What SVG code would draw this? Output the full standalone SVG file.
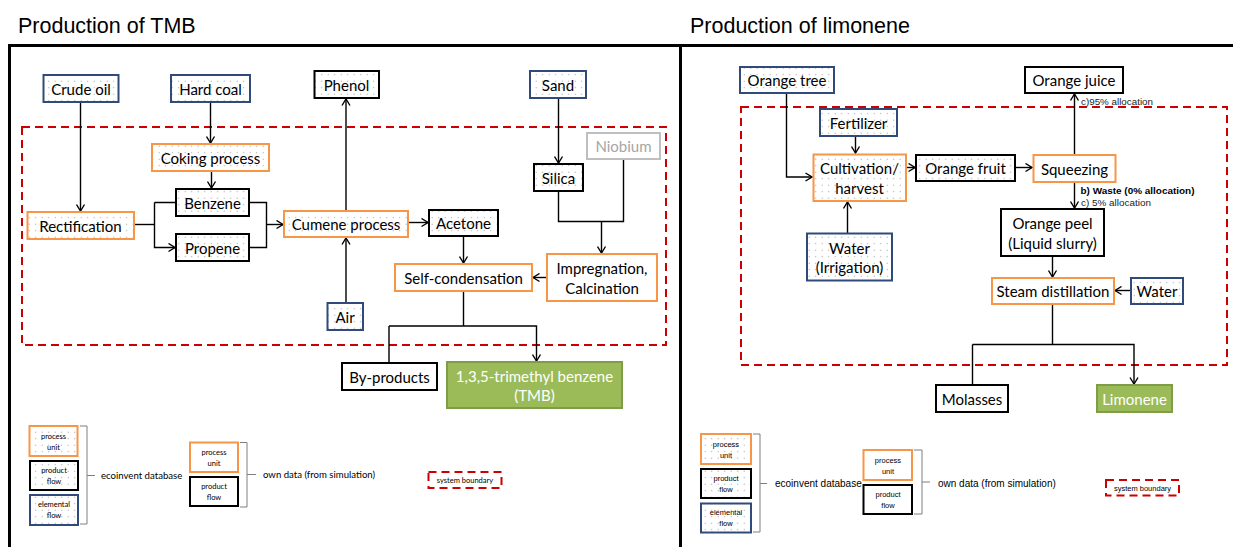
<svg xmlns="http://www.w3.org/2000/svg" width="1233" height="547" viewBox="0 0 1233 547">
<style>
.t{font-family:Lato,"Open Sans",sans-serif;font-size:15px;fill:#000;text-anchor:middle;dominant-baseline:central}
.tw{fill:#fff}
.tg{fill:#A6A6A6}
.title{font-family:"Liberation Sans",Arial,sans-serif;font-size:21.5px;fill:#000}
.pu{fill:url(#dots);stroke:#F79646;stroke-width:2}
.pu0{fill:#fff;stroke:#F79646;stroke-width:2}
.pf{fill:url(#dots);stroke:#000;stroke-width:2}
.pf0{fill:#fff;stroke:#000;stroke-width:2}
.ef{fill:url(#dots);stroke:#2F4A7B;stroke-width:2}
.gr{fill:#fff;stroke:#BFBFBF;stroke-width:2}
.fin{fill:#9BBB59;stroke:#7F9C48;stroke-width:2}
.c{fill:none;stroke:#000;stroke-width:1.4}
.ca{fill:none;stroke:#000;stroke-width:1.4;marker-end:url(#arr)}
.sb{fill:none;stroke:#CC0000;stroke-width:2;stroke-dasharray:8,5}
.frame{fill:none;stroke:#000;stroke-width:3}
.brace{fill:none;stroke:#7F7F7F;stroke-width:1}
.lt{font-family:Lato,"Open Sans",sans-serif;font-size:7.5px;fill:#000;text-anchor:middle;dominant-baseline:central}
.ll{font-family:Lato,"Open Sans",sans-serif;font-size:9.6px;fill:#000;dominant-baseline:central}
.lt2{font-family:"Liberation Sans",Arial,sans-serif;font-size:7.5px;fill:#000;text-anchor:middle;dominant-baseline:central}
.ll2{font-family:"Liberation Sans",Arial,sans-serif;font-size:10px;fill:#000;dominant-baseline:central}
.al{font-family:"Liberation Sans",Arial,sans-serif;font-size:9px;fill:#222}
.alb{font-family:"Liberation Sans",Arial,sans-serif;font-size:9px;fill:#000;font-weight:bold}
</style>
<defs>
<pattern id="dots" patternUnits="userSpaceOnUse" width="6.5" height="6.5">
<rect width="6.5" height="6.5" fill="#fff"/>
<circle cx="3.2" cy="3.2" r="0.6" fill="#A0A0A0"/>
</pattern>
<marker id="arr" viewBox="0 0 8 10" refX="7.5" refY="5" markerWidth="8" markerHeight="10" markerUnits="userSpaceOnUse" orient="auto">
<path d="M1,1 L7.5,5 L1,9" fill="none" stroke="#000" stroke-width="1.4"/>
</marker>
</defs>
<rect width="1233" height="547" fill="#fff"/>

<!-- titles and frames -->
<text class="title" x="18" y="33">Production of TMB</text>
<text class="title" x="690" y="33">Production of limonene</text>
<g id="frames">
<path class="frame" d="M9.5,547 V45.5 H1233"/>
<path class="frame" d="M680.5,45.5 V547"/>
</g>

<!-- system boundaries -->
<rect id="boundary-tmb" class="sb" x="22" y="127" width="644" height="218"/>
<rect id="boundary-lim" class="sb" x="741" y="107" width="486" height="258"/>

<!-- connectors -->
<g id="connectors">
<!-- left -->
<path class="ca" d="M80.5,102 V211"/>
<path class="ca" d="M210.5,102 V143"/>
<path class="ca" d="M211.5,171 V188"/>
<path class="c" d="M134,224.5 H154.5"/>
<path class="ca" d="M154.5,202.5 H175 M154.5,202.5 V247.5 H175"/>
<path class="c" d="M249,202.5 H266.5 V247.5 H249"/>
<path class="ca" d="M266.5,224.5 H283"/>
<path class="ca" d="M346,211 V99"/>
<path class="ca" d="M346,303 V238"/>
<path class="ca" d="M408,222.5 H428"/>
<path class="ca" d="M558.5,98 V163"/>
<path class="c" d="M558.5,191 V221.5 H623.5 V159"/>
<path class="ca" d="M601.5,221.5 V253"/>
<path class="ca" d="M463.5,236 V263"/>
<path class="ca" d="M547,277.5 H533"/>
<path class="c" d="M463.5,291 V326"/>
<path class="ca" d="M389,326 V362 M389,326 H536.5 V361"/>
<!-- right -->
<path class="ca" d="M786.5,93 V177 H812"/>
<path class="ca" d="M855.5,136 V153"/>
<path class="ca" d="M847.5,233 V202"/>
<path class="ca" d="M906,167.5 H915"/>
<path class="ca" d="M1015,167.5 H1032"/>
<path class="ca" d="M1074.5,155 V94"/>
<path class="ca" d="M1074.5,182 V208"/>
<path class="ca" d="M1052.5,256 V277"/>
<path class="ca" d="M1131,290.5 H1115"/>
<path class="c" d="M1052.5,304 V344.5"/>
<path class="ca" d="M972.5,344.5 V384 M972.5,344.5 H1134 V384"/>
</g>

<!-- connector labels -->
<text class="al" x="1081" y="104.5" textLength="72" lengthAdjust="spacingAndGlyphs">c)95% allocation</text>
<text class="alb" x="1080.5" y="194" textLength="114" lengthAdjust="spacingAndGlyphs">b) Waste (0% allocation)</text>
<text class="al" x="1081" y="206" textLength="70" lengthAdjust="spacingAndGlyphs">c) 5% allocation</text>

<!-- left nodes -->
<g id="crude-oil"><rect class="ef" x="43.5" y="75" width="75" height="27"/><text class="t" x="81" y="88.5">Crude oil</text></g>
<g id="hard-coal"><rect class="ef" x="171" y="75" width="79" height="27"/><text class="t" x="210.5" y="88.5">Hard coal</text></g>
<g id="phenol"><rect class="pf" x="314.5" y="71" width="64.5" height="27"/><text class="t" x="346.5" y="84.5">Phenol</text></g>
<g id="sand"><rect class="ef" x="530" y="71" width="56" height="27"/><text class="t" x="558" y="84.5">Sand</text></g>
<g id="coking"><rect class="pu" x="152" y="144" width="117" height="27"/><text class="t" x="210.5" y="157.5">Coking process</text></g>
<g id="niobium"><rect class="gr" x="587" y="133" width="73" height="26"/><text class="t tg" x="623.5" y="146">Niobium</text></g>
<g id="silica"><rect class="pf" x="534" y="164" width="49" height="27"/><text class="t" x="558.5" y="177.5">Silica</text></g>
<g id="benzene"><rect class="pf" x="176" y="189" width="73" height="27"/><text class="t" x="212.5" y="202.5">Benzene</text></g>
<g id="propene"><rect class="pf" x="176" y="234" width="73" height="27"/><text class="t" x="212.5" y="247.5">Propene</text></g>
<g id="rectification"><rect class="pu" x="27.5" y="212" width="106.5" height="27"/><text class="t" x="80.5" y="225.5">Rectification</text></g>
<g id="cumene"><rect class="pu" x="284" y="211" width="124" height="26"/><text class="t" x="346" y="224">Cumene process</text></g>
<g id="acetone"><rect class="pf" x="429" y="210" width="69" height="26"/><text class="t" x="463.5" y="223">Acetone</text></g>
<g id="self-condensation"><rect class="pu0" x="395" y="264" width="137" height="27"/><text class="t" x="463.5" y="277.5">Self-condensation</text></g>
<g id="impregnation"><rect class="pu0" x="547" y="254" width="110" height="47"/><text class="t" x="602" y="268">Impregnation,</text><text class="t" x="602" y="288">Calcination</text></g>
<g id="air"><rect class="ef" x="327.5" y="303" width="35.5" height="27"/><text class="t" x="345" y="316.5">Air</text></g>
<g id="by-products"><rect class="pf0" x="342" y="363" width="95" height="27"/><text class="t" x="389.5" y="376.5">By-products</text></g>
<g id="tmb"><rect class="fin" x="447" y="362" width="175" height="46"/><text class="t tw" x="534.5" y="375.5">1,3,5-trimethyl benzene</text><text class="t tw" x="534.5" y="395">(TMB)</text></g>

<!-- left legend -->
<g id="legend-tmb">
<rect class="pu" x="29.5" y="426" width="48" height="30"/><text class="lt" x="53.5" y="436">process</text><text class="lt" x="53.5" y="447">unit</text>
<rect class="pf" x="30" y="461" width="48" height="29"/><text class="lt" x="54" y="470.5">product</text><text class="lt" x="54" y="481.5">flow</text>
<rect class="ef" x="30" y="495" width="48" height="30"/><text class="lt" x="54" y="504.5">elemental</text><text class="lt" x="54" y="515.5">flow</text>
<path class="brace" d="M80,426 H87 V524 H80 M87,475.5 H95"/>
<text class="ll" x="101" y="475.5">ecoinvent database</text>
<rect class="pu0" x="190" y="442.5" width="48" height="29.5"/><text class="lt" x="214" y="452">process</text><text class="lt" x="214" y="463">unit</text>
<rect class="pf0" x="190" y="477" width="48" height="29"/><text class="lt" x="214" y="486">product</text><text class="lt" x="214" y="497">flow</text>
<path class="brace" d="M240,442.5 H247 V507 H240 M247,474.5 H256"/>
<text class="ll" x="263" y="474.5">own data (from simulation)</text>
<rect class="sb" x="428.5" y="472" width="73" height="16" stroke-dasharray="6,4"/>
<text class="lt" x="465" y="480">system boundary</text>
</g>

<!-- right nodes -->
<g id="orange-tree"><rect class="ef" x="740" y="67" width="94" height="26"/><text class="t" x="787" y="80">Orange tree</text></g>
<g id="orange-juice"><rect class="pf0" x="1025" y="67" width="98" height="26"/><text class="t" x="1074" y="80">Orange juice</text></g>
<g id="fertilizer"><rect class="ef" x="820" y="109" width="77" height="27"/><text class="t" x="858.5" y="122.5">Fertilizer</text></g>
<g id="cultivation"><rect class="pu" x="813.5" y="154.5" width="92.5" height="46.5"/><text class="t" x="859.5" y="168">Cultivation/</text><text class="t" x="859.5" y="188">harvest</text></g>
<g id="orange-fruit"><rect class="pf" x="916" y="155" width="99" height="26"/><text class="t" x="965.5" y="168">Orange fruit</text></g>
<g id="squeezing"><rect class="pu0" x="1033.5" y="155" width="82" height="27"/><text class="t" x="1074.5" y="168.5">Squeezing</text></g>
<g id="orange-peel"><rect class="pf0" x="1001" y="209" width="103" height="47"/><text class="t" x="1052.5" y="223">Orange peel</text><text class="t" x="1052.5" y="243">(Liquid slurry)</text></g>
<g id="water-irrigation"><rect class="ef" x="807" y="233.5" width="85" height="47"/><text class="t" x="849.5" y="247.5">Water</text><text class="t" x="849.5" y="267">(Irrigation)</text></g>
<g id="steam-distillation"><rect class="pu0" x="992" y="278" width="122" height="26"/><text class="t" x="1053" y="291">Steam distillation</text></g>
<g id="water"><rect class="ef" x="1131" y="278" width="52" height="26"/><text class="t" x="1157" y="291">Water</text></g>
<g id="molasses"><rect class="pf0" x="936" y="385" width="72" height="27"/><text class="t" x="972" y="398.5">Molasses</text></g>
<g id="limonene"><rect class="fin" x="1097" y="385" width="75" height="27"/><text class="t tw" x="1134.5" y="398.5">Limonene</text></g>

<!-- right legend -->
<g id="legend-lim">
<rect class="pu" x="701" y="434" width="50" height="30"/><text class="lt2" x="726" y="444">process</text><text class="lt2" x="726" y="455">unit</text>
<rect class="pf" x="701" y="469" width="50" height="29"/><text class="lt2" x="726" y="478">product</text><text class="lt2" x="726" y="489">flow</text>
<rect class="ef" x="701" y="503.5" width="50" height="29"/><text class="lt2" x="726" y="512.5">elemental</text><text class="lt2" x="726" y="523.5">flow</text>
<path class="brace" d="M753,434 H760 V532 H753 M760,483.5 H767"/>
<text class="ll2" x="775" y="483.5">ecoinvent database</text>
<rect class="pu0" x="863.5" y="450" width="48.5" height="30"/><text class="lt2" x="888" y="460">process</text><text class="lt2" x="888" y="471">unit</text>
<rect class="pf0" x="863.5" y="485" width="48.5" height="29"/><text class="lt2" x="888" y="494">product</text><text class="lt2" x="888" y="505">flow</text>
<path class="brace" d="M914,450 H922 V514 H914 M922,482 H930"/>
<text class="ll2" x="938" y="483">own data (from simulation)</text>
<rect class="sb" x="1106" y="480" width="73" height="15.5" stroke-dasharray="6,4"/>
<text class="lt2" x="1142.5" y="488">system boundary</text>
</g>
</svg>
